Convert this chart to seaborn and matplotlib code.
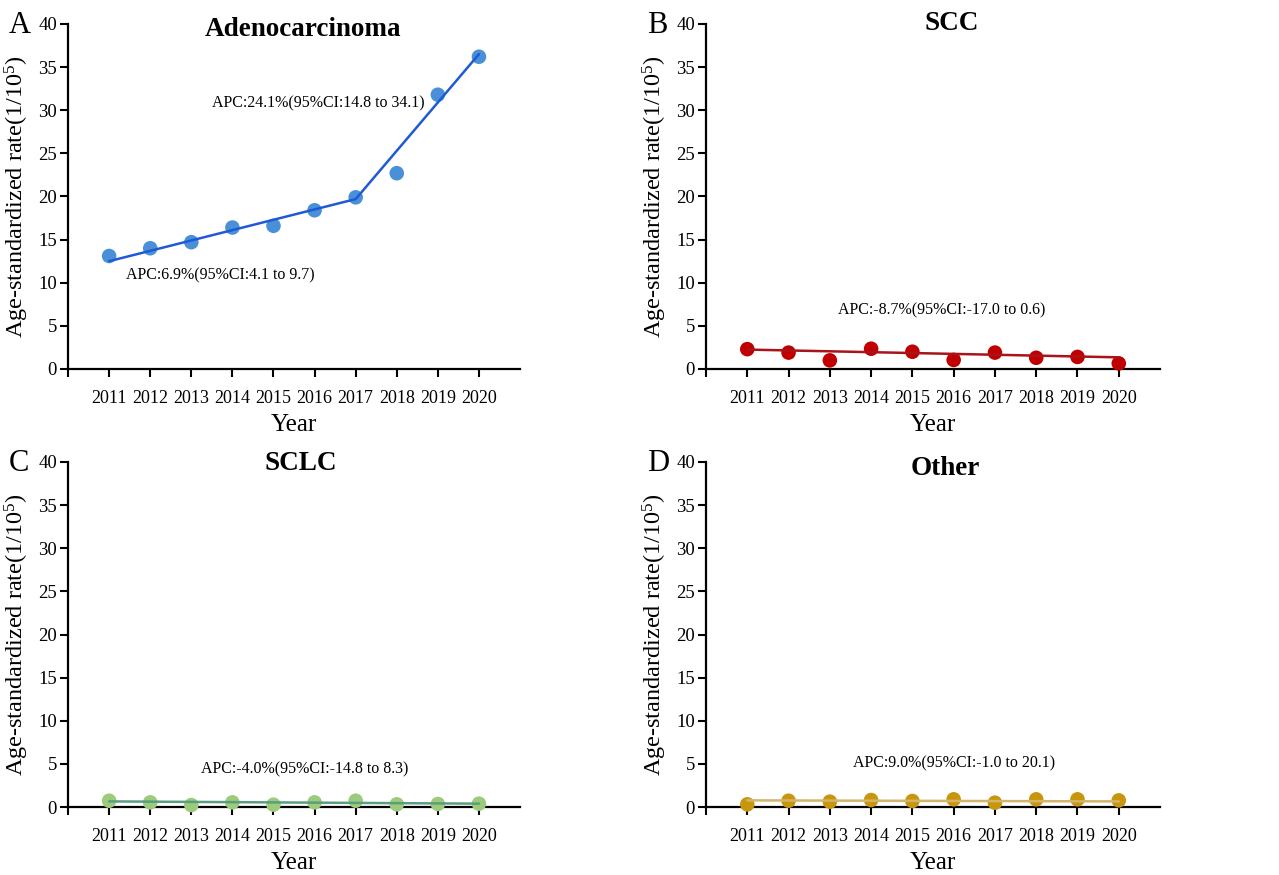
import matplotlib
matplotlib.use("Agg")
import matplotlib.pyplot as plt
import seaborn as sns
import pandas as pd

years = [2011, 2012, 2013, 2014, 2015, 2016, 2017, 2018, 2019, 2020]

adeno = [13.1, 14.0, 14.7, 16.4, 16.6, 18.4, 19.9, 22.7, 31.8, 36.2]
scc = [2.3, 1.9, 1.0, 2.35, 2.0, 1.05, 1.9, 1.3, 1.4, 0.65]
sclc = [0.73, 0.54, 0.23, 0.54, 0.27, 0.54, 0.73, 0.31, 0.35, 0.39]
other = [0.31, 0.73, 0.62, 0.81, 0.7, 0.89, 0.5, 0.89, 0.89, 0.77]

# joinpoint fitted lines (segment end points)
adeno_fit_years = [2011, 2017, 2020]
adeno_fit = [12.5, 19.7, 36.5]
scc_fit_years = [2011, 2020]
scc_fit = [2.25, 1.35]
sclc_fit_years = [2011, 2020]
sclc_fit = [0.65, 0.39]
other_fit_years = [2011, 2020]
other_fit = [0.77, 0.65]

titles = ["Adenocarcinoma", "SCC", "SCLC", "Other"]
letters = ["A", "B", "C", "D"]
point_colors = ["#4A90D9", "#C00000", "#9CCB7C", "#C8960C"]
line_colors = ["#1F5AD6", "#A8141A", "#5A9E80", "#D2B46A"]

apc_labels = [
    ["APC:24.1%(95%CI:14.8 to 34.1)", "APC:6.9%(95%CI:4.1 to 9.7)"],
    ["APC:-8.7%(95%CI:-17.0 to 0.6)"],
    ["APC:-4.0%(95%CI:-14.8 to 8.3)"],
    ["APC:9.0%(95%CI:-1.0 to 20.1)"],
]
apc_pos = [
    [(2016.1, 30.8), (2013.7, 10.8)],
    [(2015.7, 6.8)],
    [(2015.75, 4.4)],
    [(2016.0, 5.1)],
]
title_x = [0.52, 0.54, 0.515, 0.527]
title_y = [0.985, 1.0, 0.995, 0.98]

sns.set_style("ticks")
plt.rcParams["font.family"] = ["Liberation Serif", "DejaVu Serif"]
plt.rcParams["mathtext.fontset"] = "custom"
plt.rcParams["mathtext.rm"] = "Liberation Serif"
plt.rcParams["mathtext.it"] = "Liberation Serif:italic"
plt.rcParams["text.color"] = "black"
plt.rcParams["axes.labelcolor"] = "black"
plt.rcParams["xtick.color"] = "black"
plt.rcParams["ytick.color"] = "black"

fig = plt.figure(figsize=(12.79, 8.75), dpi=100)

positions = [
    [0.0532, 0.5783, 0.3534, 0.3943],
    [0.552, 0.5783, 0.355, 0.3943],
    [0.0532, 0.0777, 0.3534, 0.3943],
    [0.552, 0.0777, 0.355, 0.3943],
]

series = [adeno, scc, sclc, other]
fits = [(adeno_fit_years, adeno_fit), (scc_fit_years, scc_fit),
        (sclc_fit_years, sclc_fit), (other_fit_years, other_fit)]

for i in range(4):
    ax = fig.add_axes(positions[i])
    df = pd.DataFrame({"Year": years, "rate": series[i]})
    fit_df = pd.DataFrame({"Year": fits[i][0], "rate": fits[i][1]})

    sns.scatterplot(data=df, x="Year", y="rate", ax=ax, color=point_colors[i],
                    s=110, edgecolor="none", zorder=3, clip_on=False)
    sns.lineplot(data=fit_df, x="Year", y="rate", ax=ax, color=line_colors[i],
                 linewidth=1.8, zorder=4)

    ax.set_xlim(2010, 2021)
    ax.set_ylim(0, 40)
    ax.set_xticks([2010] + years)
    ax.set_xticklabels([""] + [str(y) for y in years], fontsize=13)
    ax.set_yticks(range(0, 41, 5))
    ax.set_yticklabels([str(v) for v in range(0, 41, 5)], fontsize=13.5)
    ax.tick_params(axis="x", length=6, width=1.5, pad=9, color="black")
    ax.tick_params(axis="y", length=6, width=1.5, pad=2, color="black")

    sns.despine(ax=ax)
    for sp in ["left", "bottom"]:
        ax.spines[sp].set_linewidth(1.6)
        ax.spines[sp].set_color("black")

    ax.set_xlabel("Year", fontsize=18, labelpad=5)
    ax.set_ylabel("Age-standardized rate(1/10$^5$)", fontsize=17.5, labelpad=5)

    ax.text(title_x[i], title_y[i], titles[i], transform=ax.transAxes, ha="center",
            va="center", fontsize=19.5, fontweight="bold")

    for lab, (x, y) in zip(apc_labels[i], apc_pos[i]):
        ax.text(x, y, lab, ha="center", va="center", fontsize=11.5)

    fig.text(positions[i][0] - 0.046, positions[i][1] + positions[i][3] - 0.002,
             letters[i], fontsize=22, ha="left", va="center")

fig.savefig("out.png", dpi=100)
